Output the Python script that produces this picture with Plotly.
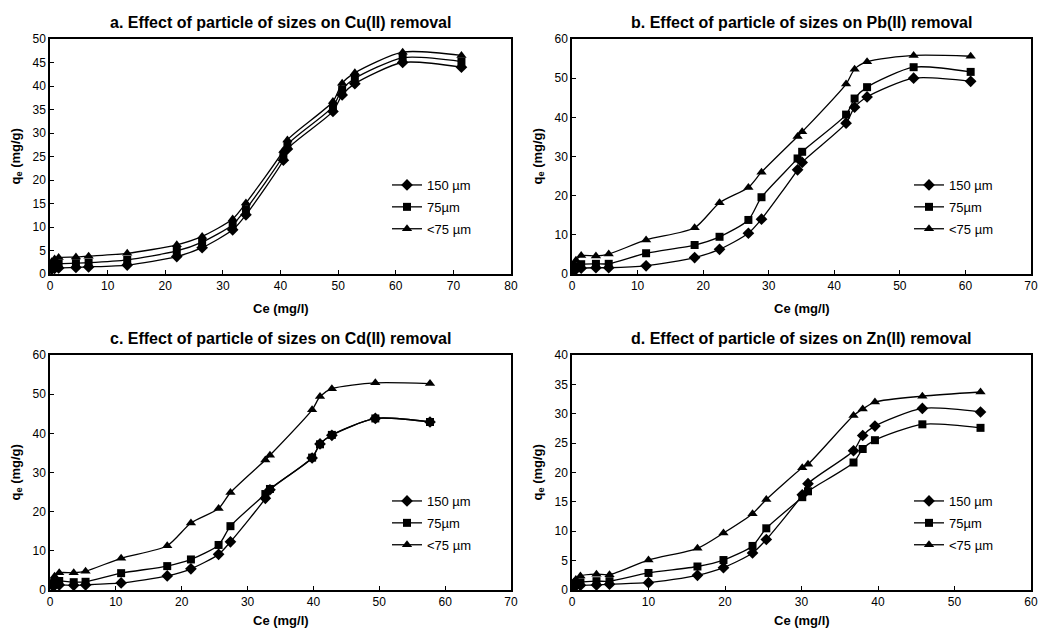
import plotly.graph_objects as go

# ---- data -------------------------------------------------------------
series_names = ["150 µm", "75µm", "<75 µm"]
symbols = ["diamond", "square", "triangle-up"]

# a. Cu(II)
cu_ce = [0.3, 0.8, 1.5, 4.5, 6.7, 13.4, 22.0, 26.4, 31.7, 34.0, 40.5, 41.2, 49.1, 50.7, 52.9, 61.2, 71.4]
cu_150 = [1.0, 1.2, 1.3, 1.4, 1.5, 1.9, 3.7, 5.6, 9.4, 12.6, 24.2, 26.6, 34.6, 38.1, 40.5, 45.0, 44.0]
cu_75 = [1.8, 2.0, 2.2, 2.3, 2.4, 3.0, 4.9, 6.8, 10.5, 13.8, 25.2, 27.5, 35.6, 39.3, 41.6, 46.0, 45.2]
cu_lt75 = [2.6, 3.2, 3.5, 3.6, 3.8, 4.4, 6.2, 8.0, 11.7, 15.1, 26.3, 28.5, 36.7, 40.6, 42.8, 47.2, 46.5]

# b. Pb(II)
pb_ce = [0.25, 0.6, 1.4, 3.65, 5.6, 11.3, 18.7, 22.5, 26.9, 28.9, 34.4, 35.1, 41.8, 43.1, 45.0, 52.1, 60.8]
pb_150 = [1.0, 1.2, 1.5, 1.6, 1.6, 2.1, 4.2, 6.3, 10.4, 14.0, 26.6, 28.5, 38.5, 42.6, 45.2, 50.0, 49.2]
pb_75 = [1.5, 2.0, 2.5, 2.6, 2.6, 5.3, 7.4, 9.5, 13.8, 19.6, 29.5, 31.2, 40.7, 44.8, 47.7, 52.8, 51.6]
pb_lt75 = [2.5, 3.5, 4.7, 4.6, 5.1, 8.7, 11.8, 18.2, 22.1, 26.0, 35.1, 36.3, 48.5, 52.3, 54.2, 55.8, 55.6]

# c. Cd(II)
cd_ce = [0.45, 0.7, 1.4, 3.6, 5.4, 10.8, 17.8, 21.4, 25.6, 27.4, 32.7, 33.4, 39.8, 41.0, 42.8, 49.4, 57.7]
cd_150 = [1.0, 1.2, 1.3, 1.2, 1.3, 1.8, 3.6, 5.4, 9.1, 12.3, 23.4, 25.6, 33.7, 37.3, 39.5, 43.8, 42.9]
cd_75 = [1.5, 2.0, 2.3, 2.0, 2.1, 4.3, 6.1, 7.8, 11.5, 16.3, 24.5, 25.8, 33.8, 37.2, 39.6, 43.8, 42.9]
cd_lt75 = [2.5, 3.5, 4.4, 4.4, 4.8, 8.1, 11.3, 17.1, 20.8, 24.9, 33.2, 34.4, 46.0, 49.4, 51.4, 52.9, 52.7]

# d. Zn(II)
zn_ce = [0.2, 0.5, 1.1, 3.2, 4.9, 10.0, 16.4, 19.8, 23.6, 25.4, 30.1, 30.85, 36.8, 38.0, 39.6, 45.8, 53.4]
zn_150 = [0.5, 0.7, 0.8, 0.85, 1.0, 1.25, 2.5, 3.8, 6.3, 8.6, 16.2, 18.1, 23.7, 26.3, 27.9, 30.9, 30.3]
zn_75 = [0.9, 1.1, 1.3, 1.5, 1.5, 2.9, 4.0, 5.1, 7.5, 10.5, 15.8, 16.8, 21.7, 24.0, 25.5, 28.2, 27.6]
zn_lt75 = [1.3, 1.8, 2.4, 2.7, 2.6, 5.1, 7.1, 9.7, 13.0, 15.4, 20.8, 21.4, 29.7, 30.8, 32.0, 33.0, 33.7]

panel_titles = [
    "a. Effect of particle of sizes on Cu(II) removal",
    "b. Effect of particle of sizes on Pb(II) removal",
    "c. Effect of particle of sizes on Cd(II) removal",
    "d. Effect of particle of sizes on Zn(II) removal",
]
x_ranges = [(0, 80), (0, 70), (0, 70), (0, 60)]
y_ranges = [(0, 50), (0, 60), (0, 60), (0, 40)]
y_dticks = [5, 10, 10, 5]

panels = [
    (cu_ce, [cu_150, cu_75, cu_lt75]),
    (pb_ce, [pb_150, pb_75, pb_lt75]),
    (cd_ce, [cd_150, cd_75, cd_lt75]),
    (zn_ce, [zn_150, zn_75, zn_lt75]),
]

# ---- layout geometry (paper coordinates) -----------------------------
W, H = 1039, 629
x_domains = [(50 / W, 511 / W), (572 / W, 1031 / W)] * 2
y_domains = [(1 - 274 / H, 1 - 39 / H)] * 2 + [(1 - 590 / H, 1 - 355 / H)] * 2

FONT = "Liberation Sans, Arial, sans-serif"

fig = go.Figure()
layout = dict(
    width=W, height=H,
    margin=dict(l=0, r=0, t=0, b=0),
    paper_bgcolor="white", plot_bgcolor="white",
    font=dict(family=FONT, size=12, color="black"),
    annotations=[],
)

for i, (ce, ys) in enumerate(panels):
    n = i + 1
    xa = "xaxis" if n == 1 else f"xaxis{n}"
    ya = "yaxis" if n == 1 else f"yaxis{n}"
    xr = "x" if n == 1 else f"x{n}"
    yr = "y" if n == 1 else f"y{n}"
    lg = "legend" if n == 1 else f"legend{n}"

    for k, (name, sym, vals) in enumerate(zip(series_names, symbols, ys)):
        fig.add_trace(go.Scatter(
            x=ce, y=vals, name=name, mode="lines+markers",
            xaxis=xr, yaxis=yr, legend=lg, legendgroup=f"p{n}s{k}",
            line=dict(color="black", width=1.3, shape="spline", smoothing=0.7),
            marker=dict(symbol=sym, size=9 if sym != "square" else 8, color="black"),
        ))

    common = dict(
        showline=True, linecolor="black", linewidth=1.5, mirror=True,
        ticks="inside", ticklen=4, tickcolor="black", tickwidth=1,
        showgrid=False, zeroline=False, automargin=False,
        tickfont=dict(family=FONT, size=12, color="black"),
    )
    layout[xa] = dict(common, domain=x_domains[i], range=list(x_ranges[i]),
                      dtick=10, anchor=yr)
    layout[ya] = dict(common, domain=y_domains[i], range=list(y_ranges[i]),
                      dtick=y_dticks[i], anchor=xr)

    x0, x1 = x_domains[i]
    y0, y1 = y_domains[i]
    xc = (x0 + x1) / 2
    # panel title
    layout["annotations"].append(dict(
        text=f"<b>{panel_titles[i]}</b>", xref="paper", yref="paper",
        x=xc, y=y1 + 17 / H, xanchor="center", yanchor="middle",
        showarrow=False, font=dict(family=FONT, size=16, color="black"),
    ))
    # x-axis title (bottom row sits close to the page edge)
    gap = 34 if n <= 2 else 30
    layout["annotations"].append(dict(
        text="<b>Ce (mg/l)</b>", xref="paper", yref="paper",
        x=xc, y=y0 - gap / H, xanchor="center", yanchor="middle",
        showarrow=False, font=dict(family=FONT, size=13, color="black"),
    ))
    # y-axis title
    layout["annotations"].append(dict(
        text="<b>q<sub>e</sub> (mg/g)</b>", xref="paper", yref="paper",
        x=x0 - 34 / W, y=(y0 + y1) / 2, xanchor="center", yanchor="middle",
        textangle=-90, showarrow=False, font=dict(family=FONT, size=13, color="black"),
    ))
    # legend inside plot area
    layout[lg] = dict(
        x=x0 + 337 / W, y=y1 - 131 / H, xanchor="left", yanchor="top",
        bgcolor="rgba(0,0,0,0)", borderwidth=0,
        font=dict(family=FONT, size=13, color="black"),
        itemwidth=30, tracegroupgap=2, traceorder="grouped",
        groupclick="toggleitem",
    )

fig.update_layout(**layout)
fig.write_html("out.html")
